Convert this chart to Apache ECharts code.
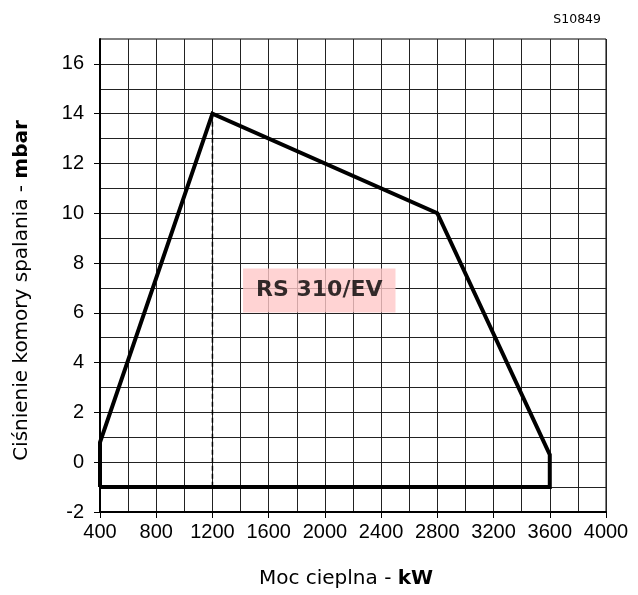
<!DOCTYPE html>
<html><head><meta charset="utf-8">
<script src="https://cdn.jsdelivr.net/npm/echarts@6/dist/echarts.min.js"></script>
<style>html,body{margin:0;padding:0;background:#fff}#c{width:638px;height:595px}</style>
</head><body><div id="c"></div>
<script>
var envelopeX = [400, 400, 1200, 2800, 3600, 3600, 400];
var envelopeY = [-1, 0.8, 14, 10, 0.3, -1, -1];
var dashX = [1200, 1200];
var dashY = [14, -1];
var xTicks = [400, 800, 1200, 1600, 2000, 2400, 2800, 3200, 3600, 4000];
var yTicks = [-2, 0, 2, 4, 6, 8, 10, 12, 14, 16];
var labelText = 'RS 310/EV';
var labelPos = [1960, 6.9];
var codeText = 'S10849';

var chart = echarts.init(document.getElementById('c'));
var F = 'Liberation Sans, Arial, sans-serif';
var W = 'DejaVu Sans, Verdana, sans-serif';
chart.setOption({
  animation: false,
  title: { text: codeText, right: 32, top: 8, textStyle: { fontFamily: W, fontSize: 12.5, fontWeight: 'normal', color: '#000' } },
  grid: { left: 100, right: 32, top: 39, bottom: 83, show: true, borderColor: '#000', borderWidth: 1, outerBoundsMode: 'none', containLabel: false },
  xAxis: {
    type: 'value', min: 400, max: 4000, interval: 400,
    name: 'Moc cieplna - {b|kW}', nameLocation: 'middle', nameGap: 57,
    nameTextStyle: { fontFamily: W, fontSize: 20, color: '#000', padding: [0, 14, 0, 0],
      rich: { b: { fontFamily: W, fontSize: 20, fontWeight: 'bold', color: '#000' } } },
    axisLine: { show: true, onZero: false, lineStyle: { color: '#000', width: 2 } },
    axisTick: { show: true, length: 6, lineStyle: { color: '#000' }, customValues: xTicks },
    axisLabel: { fontFamily: F, fontSize: 20, color: '#000', margin: 10, customValues: xTicks,
      formatter: function (v) { return String(v); } },
    splitLine: { show: true, lineStyle: { color: '#222', width: 1 } },
    minorTick: { show: false, splitNumber: 2 },
    minorSplitLine: { show: true, lineStyle: { color: '#222', width: 1 } }
  },
  yAxis: {
    type: 'value', min: -2, max: 17, interval: 2,
    name: 'Ciśnienie komory spalania - {b|mbar}', nameLocation: 'middle', nameGap: 68,
    nameTextStyle: { fontFamily: W, fontSize: 20, color: '#000', padding: [0, 30, 0, 0],
      rich: { b: { fontFamily: W, fontSize: 20, fontWeight: 'bold', color: '#000' } } },
    axisLine: { show: true, onZero: false, lineStyle: { color: '#000', width: 2 } },
    axisTick: { show: true, length: 6, lineStyle: { color: '#000' }, customValues: yTicks },
    axisLabel: { fontFamily: F, fontSize: 20, color: '#000', margin: 16, customValues: yTicks,
      formatter: function (v) { return String(v); } },
    splitLine: { show: true, lineStyle: { color: '#222', width: 1 } },
    minorTick: { show: false, splitNumber: 2 },
    minorSplitLine: { show: true, lineStyle: { color: '#222', width: 1 } }
  },
  series: [
    { type: 'line', data: envelopeX.map(function (x, i) { return [x, envelopeY[i]]; }),
      symbol: 'none', lineStyle: { color: '#000', width: 4, join: 'miter' }, z: 5 },
    { type: 'line', data: dashX.map(function (x, i) { return [x, dashY[i]]; }),
      symbol: 'none', lineStyle: { color: '#000', width: 1.5, type: [5, 3] }, z: 4 },
    { type: 'scatter', data: [labelPos], symbolSize: 0, z: 6,
      label: { show: true, position: 'inside', formatter: labelText, fontFamily: W, fontSize: 22, fontWeight: 'bold', color: '#000',
        backgroundColor: '#ffc8c8', padding: [11, 13, 11, 13] } }
  ]
});
</script></body></html>
